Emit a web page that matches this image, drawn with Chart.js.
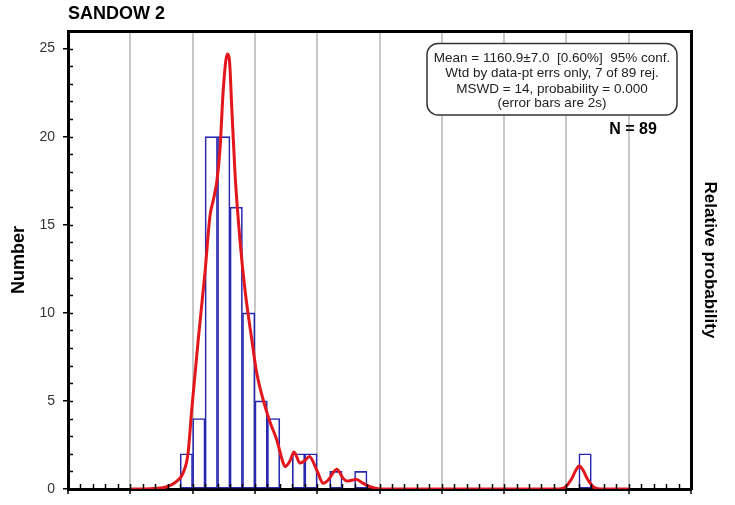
<!DOCTYPE html>
<html>
<head>
<meta charset="utf-8">
<title>SANDOW 2</title>
<script src="https://cdn.jsdelivr.net/npm/chart.js@4.4.1/dist/chart.umd.min.js"></script>
<style>
  body { margin: 0; background: #fff; }
  #wrap { width: 735px; height: 505px; }
</style>
</head>
<body>
<div id="wrap"><canvas id="sandow_chart" width="735" height="505"></canvas></div>
<script>
// histogram bins (age, Ma) - start of each 20 Ma bin and its count
var binStart = [1080, 1100, 1120, 1140, 1160, 1180, 1200, 1220, 1260, 1280, 1320, 1360, 1720];
var binCount = [2, 4, 20, 20, 16, 10, 5, 4, 2, 2, 1, 1, 2];
var binWidth = 20;

// relative probability curve (scaled to the Number axis)
var curveAge = [1000, 1032, 1056, 1076.6, 1084.6, 1092.6, 1098.6, 1109.1, 1119.9, 1127.9, 1133.2, 1138.7,
  1144, 1149.3, 1155.7, 1159.2, 1162.8, 1168.1, 1176.1, 1184.1, 1194.9, 1202.9, 1216.2, 1224.2,
  1235, 1245.6, 1248.6, 1256.4, 1262.8, 1272.4, 1280, 1287.4, 1299.2, 1309.8, 1317.4, 1331.4, 1341.8,
  1348, 1356, 1362, 1374, 1384.8, 1398, 1420, 1688, 1698, 1708, 1715, 1720.6, 1727, 1734, 1744, 1754, 1800];
var curveValue = [0, 0.02, 0.1, 0.5, 0.9, 2.0, 4.5, 8.5, 12.3, 15.5, 16.4, 17.4,
  19.3, 22.7, 24.7, 24.3, 21.7, 17.9, 14.1, 11.3, 8.5, 6.6, 4.7, 3.8,
  2.8, 1.46, 1.27, 1.6, 2.1, 1.47, 1.6, 1.84, 1.08, 0.32, 0.5, 1.12, 0.6,
  0.45, 0.5, 0.55, 0.32, 0.13, 0.02, 0, 0, 0.1, 0.55, 1.05, 1.3, 1.05, 0.55, 0.1, 0, 0];

var ageMin = 900, ageMax = 1900, ageStep = 100;
var yTicksMax = 26;

var statLines = [
  "Mean = 1160.9\u00b17.0  [0.60%]  95% conf.",
  "Wtd by data-pt errs only, 7 of 89 rej.",
  "MSWD = 14, probability = 0.000",
  "(error bars are 2s)"
];
var nLabel = "N = 89";

Chart.defaults.font.family = "'Liberation Sans', Arial, sans-serif";
Chart.defaults.color = "#333";

function histPoints() {
  var pts = [];
  for (var i = 0; i < binStart.length; i++)
    pts.push({ x: binStart[i] + binWidth / 2, y: binCount[i] });
  return pts;
}

function curvePoints() {
  var pts = [];
  for (var i = 0; i < curveAge.length; i++)
    pts.push({ x: curveAge[i], y: curveValue[i] });
  return pts;
}

// small inward ticks on the bottom and left axes
var minorTicks = {
  id: "minorTicks",
  afterDraw: function(chart) {
    var ctx = chart.ctx, area = chart.chartArea;
    var xs = chart.scales.x, ys = chart.scales.y;
    ctx.save();
    ctx.strokeStyle = "#000";
    ctx.lineWidth = 1.5;
    ctx.beginPath();
    for (var v = ageMin; v <= ageMax; v += binWidth) {
      var px = Math.round(xs.getPixelForValue(v)) + 0.5;
      ctx.moveTo(px, area.bottom);
      ctx.lineTo(px, area.bottom - 5);
    }
    for (var n = 0; n <= 25; n++) {
      var py = Math.round(ys.getPixelForValue(n)) + 0.5;
      ctx.moveTo(area.left, py);
      ctx.lineTo(area.left + 5, py);
    }
    ctx.stroke();
    ctx.restore();
  }
};

// statistics box and N label
var statsBox = {
  id: "statsBox",
  afterDraw: function(chart) {
    var ctx = chart.ctx;
    var x0 = 427, y0 = 43.5, w = 250, h = 71.5, r = 11;
    ctx.save();
    ctx.beginPath();
    ctx.moveTo(x0 + r, y0);
    ctx.lineTo(x0 + w - r, y0);
    ctx.arcTo(x0 + w, y0, x0 + w, y0 + r, r);
    ctx.lineTo(x0 + w, y0 + h - r);
    ctx.arcTo(x0 + w, y0 + h, x0 + w - r, y0 + h, r);
    ctx.lineTo(x0 + r, y0 + h);
    ctx.arcTo(x0, y0 + h, x0, y0 + h - r, r);
    ctx.lineTo(x0, y0 + r);
    ctx.arcTo(x0, y0, x0 + r, y0, r);
    ctx.closePath();
    ctx.fillStyle = "#fff";
    ctx.fill();
    ctx.strokeStyle = "#333";
    ctx.lineWidth = 1.5;
    ctx.stroke();

    ctx.fillStyle = "#222";
    ctx.textAlign = "center";
    ctx.textBaseline = "middle";
    ctx.font = "13.5px 'Liberation Sans', Arial, sans-serif";
    var lineY = [58.5, 73.5, 89, 103.5];
    for (var i = 0; i < statLines.length; i++)
      ctx.fillText(statLines[i], x0 + w / 2, lineY[i]);

    ctx.fillStyle = "#000";
    ctx.font = "bold 16px 'Liberation Sans', Arial, sans-serif";
    ctx.fillText(nLabel, 633, 130);
    ctx.restore();
  }
};

function drawSandowChart() {
  var ctx = document.getElementById("sandow_chart").getContext("2d");
  new Chart(ctx, {
    type: "bar",
    data: {
      datasets: [{
        type: "line",
        label: "Relative probability",
        data: curvePoints(),
        borderColor: "#e3161c",
        borderWidth: 3,
        pointRadius: 0,
        fill: false,
        cubicInterpolationMode: "monotone",
        xAxisID: "x",
        yAxisID: "y"
      }, {
        type: "bar",
        label: "Number",
        data: histPoints(),
        backgroundColor: "rgba(0,0,0,0)",
        borderColor: "#2828b0",
        borderWidth: 1,
        borderSkipped: false,
        categoryPercentage: 1.0,
        barPercentage: 1.0,
        xAxisID: "x",
        yAxisID: "y"
      }]
    },
    options: {
      responsive: false,
      animation: false,
      layout: { padding: 0 },
      plugins: {
        legend: { display: false },
        tooltip: { enabled: false }
      },
      scales: {
        x: {
          type: "linear",
          position: "bottom",
          offset: false,
          min: ageMin,
          max: ageMax,
          ticks: { display: false, stepSize: ageStep },
          grid: {
            offset: false,
            color: "#c8c8c8",
            lineWidth: 2,
            drawTicks: true,
            tickLength: 5,
            tickColor: "#000",
            tickWidth: 1.5
          },
          border: { display: true, color: "#000", width: 3 },
          afterFit: function(scale) { scale.height = 16; }
        },
        xTop: {
          type: "linear",
          position: "top",
          offset: false,
          min: ageMin,
          max: ageMax,
          ticks: { display: false },
          grid: { display: false, drawTicks: false },
          border: { display: true, color: "#000", width: 3 },
          title: {
            display: true,
            text: "SANDOW 2",
            align: "start",
            color: "#000",
            font: { size: 18, weight: "bold" },
            padding: { top: 3, bottom: 0 }
          },
          afterFit: function(scale) { scale.height = 31; }
        },
        y: {
          type: "linear",
          position: "left",
          min: 0,
          max: yTicksMax,
          ticks: {
            stepSize: 5,
            includeBounds: false,
            padding: 8,
            color: "#333",
            font: { size: 14, lineHeight: 1 }
          },
          grid: {
            drawOnChartArea: false,
            drawTicks: true,
            tickLength: 5,
            color: "#000",
            lineWidth: 1.5
          },
          border: { display: true, color: "#000", width: 3 },
          title: {
            display: true,
            text: "Number",
            color: "#000",
            font: { size: 18, weight: "bold" },
            padding: { top: 8, bottom: 0 }
          },
          afterFit: function(scale) { scale.width = 68; }
        },
        yRight: {
          type: "linear",
          position: "right",
          min: 0,
          max: 1,
          ticks: { display: false },
          grid: { display: false, drawTicks: false },
          border: { display: true, color: "#000", width: 3 },
          title: {
            display: true,
            text: "Relative probability",
            color: "#000",
            font: { size: 17, weight: "bold" },
            padding: { top: 15, bottom: 0 }
          },
          afterFit: function(scale) { scale.width = 44; }
        }
      }
    },
    plugins: [minorTicks, statsBox]
  });
}

drawSandowChart();
</script>
</body>
</html>
